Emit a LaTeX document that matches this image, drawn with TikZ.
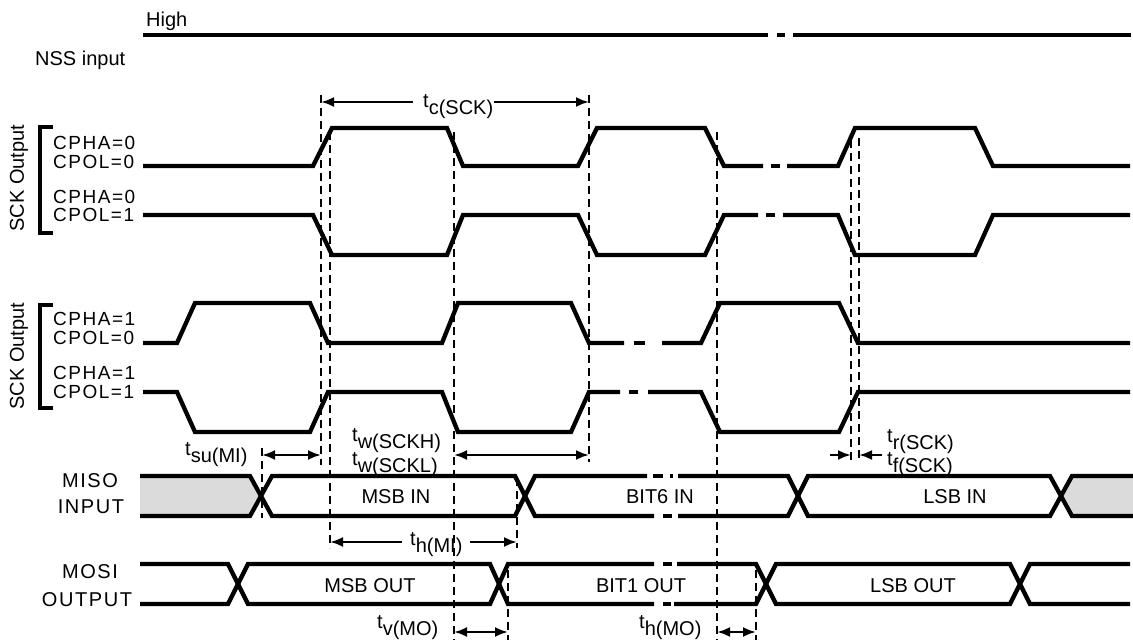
\documentclass[tikz,border=0pt]{standalone}
\usepackage{fontspec}
\setmainfont{Liberation Sans}
\newfontfamily\spacedfont[LetterSpace=8]{Liberation Sans}
\usetikzlibrary{arrows.meta}

\newcommand{\tsub}[1]{t\raisebox{-7pt}{\fontsize{20}{20}\selectfont #1}}

\tikzset{
  wave/.style={line width=4.3pt, line join=miter},
  guide/.style={line width=2.6pt, dash pattern=on 8pt off 5pt},
  dim/.style={line width=2.4pt, -{Latex[length=13pt,width=10pt]}},
  dimboth/.style={line width=2.4pt, {Latex[length=13pt,width=10pt]}-{Latex[length=13pt,width=10pt]}},
  lbl/.style={font=\fontsize{20}{22}\selectfont, inner sep=0pt},
  tlbl/.style={font=\fontsize{20}{20}\selectfont, inner sep=0pt, anchor=base west},
  cfg/.style={font=\spacedfont\fontsize{19}{20}\selectfont, inner sep=0pt, anchor=base west},
}

\begin{document}
\begin{tikzpicture}[x=1pt, y=-1pt]
  \useasboundingbox (0,0) rectangle (1133,643);

  % NSS
  \node[lbl, anchor=base west] (high) at (146,26) {High};
  \node[lbl, anchor=base west] (nss) at (35,65) {NSS input};
  \draw[wave] (143,35) -- (768,35) (777,35) -- (785,35) (793,35) -- (1131,35);

  % SCK brackets
  \node[lbl, rotate=90, font=\fontsize{20}{20}\selectfont] (sckA) at (19,178) {SCK Output};
  \node[lbl, rotate=90, font=\fontsize{20}{20}\selectfont] (sckB) at (19,356) {SCK Output};
  \draw[line width=3.6pt] (53,127) -- (40,127) -- (40,233) -- (53,233);
  \draw[line width=3.6pt] (53,305) -- (40,305) -- (40,408) -- (53,408);

  \node[cfg] (pha1) at (53,149) {CPHA=0};
  \node[cfg] (pol1) at (53,168) {CPOL=0};
  \node[cfg] (pha2) at (53,203) {CPHA=0};
  \node[cfg] (pol2) at (53,221) {CPOL=1};
  \node[cfg] (pha3) at (53,325) {CPHA=1};
  \node[cfg] (pol3) at (53,344) {CPOL=0};
  \node[cfg] (pha4) at (53,379) {CPHA=1};
  \node[cfg] (pol4) at (53,398) {CPOL=1};

  % SCK waveforms
  \draw[wave] (143,166) -- (313,166) -- (332,128) -- (447,128) -- (463,166) -- (578,166) -- (597,128) -- (705,128) -- (724,166) -- (763,166);
  \draw[wave] (771,166) -- (780,166);
  \draw[wave] (787,166) -- (838,166) -- (855,128) -- (975,128) -- (993,166) -- (1130,166);

  \draw[wave] (143,215) -- (313,215) -- (332,255) -- (447,255) -- (463,215) -- (578,215) -- (597,255) -- (705,255) -- (724,215) -- (758,215);
  \draw[wave] (766,215) -- (775,215);
  \draw[wave] (783,215) -- (838,215) -- (855,255) -- (975,255) -- (993,215) -- (1130,215);

  \draw[wave] (143,343) -- (177,343) -- (195,303) -- (310,303) -- (328,343) -- (442,343) -- (458,303) -- (571,303) -- (589,343) -- (624,343);
  \draw[wave] (634,343) -- (645,343);
  \draw[wave] (662,343) -- (701,343) -- (720,303) -- (839,303) -- (858,343) -- (1130,343);

  \draw[wave] (143,392) -- (177,392) -- (195,432) -- (310,432) -- (328,392) -- (442,392) -- (458,432) -- (571,432) -- (589,392) -- (620,392);
  \draw[wave] (629,392) -- (638,392);
  \draw[wave] (648,392) -- (701,392) -- (720,432) -- (839,432) -- (858,392) -- (1130,392);

  % MISO
  \node[lbl, anchor=base, font=\spacedfont\fontsize{20}{22}\selectfont] (miso) at (90,487) {MISO};
  \node[lbl, anchor=base, font=\spacedfont\fontsize{20}{22}\selectfont] (input) at (91,513) {INPUT};
  \fill[black!14] (140,476) -- (250,476) -- (261,496) -- (250,516) -- (140,516) -- cycle;
  \fill[black!14] (1133,476) -- (1072,476) -- (1061,496) -- (1072,516) -- (1133,516) -- cycle;
  \draw[wave] (140,476) -- (250,476) -- (272,516) -- (515,516) -- (535,476) -- (647,476);
  \draw[wave] (140,516) -- (250,516) -- (272,476) -- (515,476) -- (535,516) -- (654,516);
  \draw[wave] (653,476) -- (663,476) (670,476) -- (673,476) (663,516) -- (672,516);
  \draw[wave] (678,476) -- (788,476) -- (808,516) -- (1050,516) -- (1072,476) -- (1133,476);
  \draw[wave] (678,516) -- (788,516) -- (808,476) -- (1050,476) -- (1072,516) -- (1133,516);
  \node[lbl] (msbin) at (396,497) {MSB IN};
  \node[lbl] (bit6in) at (660,497) {BIT6 IN};
  \node[lbl] (lsbin) at (955,497) {LSB IN};

  % MOSI
  \node[lbl, anchor=base, font=\spacedfont\fontsize{20}{22}\selectfont] (mosi) at (90,578) {MOSI};
  \node[lbl, anchor=base, font=\spacedfont\fontsize{20}{22}\selectfont] (output) at (87,606) {OUTPUT};
  \draw[wave] (140,564) -- (228,564) -- (248,604) -- (490,604) -- (508,564) -- (654,564);
  \draw[wave] (140,604) -- (228,604) -- (248,564) -- (490,564) -- (508,604) -- (654,604);
  \draw[wave] (663,564) -- (672,564) (663,604) -- (671,604);
  \draw[wave] (677,564) -- (756,564) -- (776,604) -- (1010,604) -- (1030,564) -- (1130,564);
  \draw[wave] (674,604) -- (756,604) -- (776,564) -- (1010,564) -- (1030,604) -- (1130,604);
  \node[lbl] (msbout) at (370,586) {MSB OUT};
  \node[lbl] (bit1out) at (641,586) {BIT1 OUT};
  \node[lbl] (lsbout) at (913,586) {LSB OUT};

  % guide lines
  \foreach \n/\x/\ya/\yb in {1/321/95/465, 2/330/132/548, 3/454/132/640, 4/589/95/462,
      5/717/132/640, 6/851/140/462, 7/859/138/462, 8/262/448/518,
      9/517/478/548, 10/508/570/640, 11/756/570/640} {
    \coordinate (g\n t) at (\x,\ya);
    \coordinate (g\n b) at (\x,\yb);
    \draw[guide] (g\n t) -- (g\n b);
  }

  % timing labels
  \node[tlbl] (tc) at (423,107) {\tsub{c(SCK)}};
  \draw[dim] (413,102) -- (g1t |- 0,102);
  \draw[dim] (494,102) -- (g4t |- 0,102);

  \node[tlbl] (tsu) at (185,455) {\tsub{su(MI)}};
  \draw[dimboth] (g8t |- 0,455) -- (g1t |- 0,455);

  \node[tlbl] (twh) at (352,441) {\tsub{w(SCKH)}};
  \node[tlbl] (twl) at (352,465) {\tsub{w(SCKL)}};
  \draw[dimboth] (g3t |- 0,455) -- (g4t |- 0,455);

  \node[tlbl] (tr) at (887,442) {\tsub{r(SCK)}};
  \node[tlbl] (tf) at (887,465) {\tsub{f(SCK)}};
  \draw[dim] (830,455) -- (g6t |- 0,455);
  \draw[dim] (882,455) -- (g7t |- 0,455);

  \node[tlbl] (thmi) at (410,545) {\tsub{h(MI)}};
  \draw[dim] (402,542) -- (g2t |- 0,542);
  \draw[dim] (470,542) -- (g9t |- 0,542);

  \node[tlbl] (tvmo) at (377,628) {\tsub{v(MO)}};
  \draw[dimboth] (g3t |- 0,632) -- (g10t |- 0,632);

  \node[tlbl] (thmo) at (639,628) {\tsub{h(MO)}};
  \draw[dimboth] (g5t |- 0,632) -- (g11t |- 0,632);
\end{tikzpicture}
\end{document}
